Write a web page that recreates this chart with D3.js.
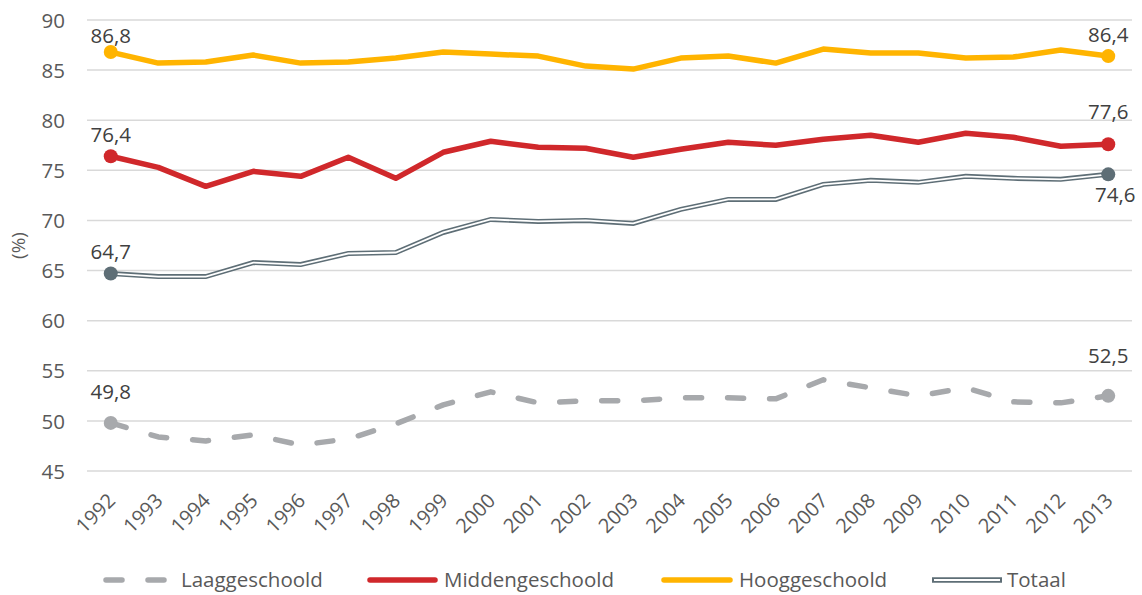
<!DOCTYPE html>
<html><head><meta charset="utf-8">
<script src="https://cdn.jsdelivr.net/npm/d3@7"></script>
<style>body{margin:0;background:#fff}svg{display:block;font-family:"Open Sans",sans-serif}</style>
</head><body><svg id="c" width="1142" height="595"></svg>
<script>
const years = [1992,1993,1994,1995,1996,1997,1998,1999,2000,2001,2002,2003,2004,2005,2006,2007,2008,2009,2010,2011,2012,2013];
const laag   = [49.8,48.4,48.0,48.6,47.6,48.2,49.7,51.6,52.9,51.8,52.0,52.0,52.3,52.3,52.2,54.1,53.3,52.5,53.3,51.9,51.8,52.5];
const midden = [76.4,75.3,73.4,74.9,74.4,76.3,74.2,76.8,77.9,77.3,77.2,76.3,77.1,77.8,77.5,78.1,78.5,77.8,78.7,78.3,77.4,77.6];
const hoog   = [86.8,85.7,85.8,86.5,85.7,85.8,86.2,86.8,86.6,86.4,85.4,85.1,86.2,86.4,85.7,87.1,86.7,86.7,86.2,86.3,87.0,86.4];
const totaal = [64.7,64.4,64.4,65.8,65.6,66.7,66.8,68.8,70.1,69.9,70.0,69.7,71.1,72.1,72.1,73.6,74.0,73.8,74.4,74.2,74.1,74.6];
const yTicks = [45,50,55,60,65,70,75,80,85,90];
const seriesNames = ["Laaggeschoold","Middengeschoold","Hooggeschoold","Totaal"];
const fmt = v => d3.format(".1f")(v).replace(".", ",");

const svg = d3.select("#c");
const L = 87, R = 1132, T = 20, B = 471;
const x = d3.scaleBand().domain(years).range([L, R]);
const y = d3.scaleLinear().domain([45, 90]).range([B, T]);
const cx = d => x(d) + x.bandwidth() / 2;

// gridlines
svg.append("g").selectAll("line").data(yTicks).join("line")
  .attr("x1", L).attr("x2", R).attr("y1", d => y(d)).attr("y2", d => y(d))
  .attr("stroke", "#D9D9D9").attr("stroke-width", 1.5);

// y axis labels
const yAxis = d3.axisLeft(y).tickValues(yTicks).tickSize(0).tickPadding(0);
const gy = svg.append("g").attr("transform", `translate(${L - 22},0)`).call(yAxis);
gy.select(".domain").remove();
gy.selectAll("text").attr("font-size", 20.5).attr("fill", "#595959").attr("font-family", "Open Sans").attr("dy", "0.35em");

// y title
svg.append("text").attr("transform", `translate(25,${y(67.5)}) rotate(-90)`)
  .attr("text-anchor", "middle").attr("font-size", 19).attr("fill", "#595959").text("(%)");

// x axis labels
const xAxis = d3.axisBottom(x).tickSize(0).tickPadding(0);
const gx = svg.append("g").attr("transform", "translate(0,0)").call(xAxis);
gx.select(".domain").remove();
gx.selectAll(".tick").attr("transform", null);
gx.selectAll(".tick text").attr("font-size", 20).attr("fill", "#595959").attr("font-family", "Open Sans")
  .attr("text-anchor", "end").attr("x", 0).attr("y", 0).attr("dy", "0.35em")
  .attr("transform", d => `translate(${cx(d) + 1},${B + 26}) rotate(-45)`);

const line = d3.line().x((d, i) => cx(years[i])).y(d => y(d));

const cLaag = "#A7A9AC", cMid = "#D0282B", cHoog = "#FFB400", cTot = "#5E6E76";

// Laag dashed
svg.append("path").attr("d", line(laag)).attr("fill", "none").attr("stroke", cLaag)
  .attr("stroke-width", 5.5).attr("stroke-dasharray", "16,26").attr("stroke-linecap", "round").attr("stroke-linejoin", "round");
// Midden
svg.append("path").attr("d", line(midden)).attr("fill", "none").attr("stroke", cMid).attr("stroke-width", 5.5).attr("stroke-linejoin", "round");
// Hoog
svg.append("path").attr("d", line(hoog)).attr("fill", "none").attr("stroke", cHoog).attr("stroke-width", 5.5).attr("stroke-linejoin", "round");
// Totaal double
svg.append("path").attr("d", line(totaal)).attr("fill", "none").attr("stroke", cTot).attr("stroke-width", 5);
svg.append("path").attr("d", line(totaal)).attr("fill", "none").attr("stroke", "#fff").attr("stroke-width", 1.8);

// end markers and labels
const ends = [
  {vals: laag, color: cLaag, dy0: -24, dy1: -33, dx1: 0},
  {vals: midden, color: cMid, dy0: -14, dy1: -25, dx1: 0},
  {vals: hoog, color: cHoog, dy0: -9, dy1: -14, dx1: 0},
  {vals: totaal, color: cTot, dy0: -15, dy1: 28, dx1: 7}
];
ends.forEach(s => {
  [0, years.length - 1].forEach((i, k) => {
    svg.append("circle").attr("cx", cx(years[i])).attr("cy", y(s.vals[i])).attr("r", 7).attr("fill", s.color);
    svg.append("text").attr("x", cx(years[i]) + (k ? s.dx1 : 0)).attr("y", y(s.vals[i]) + (k ? s.dy1 : s.dy0))
      .attr("text-anchor", "middle").attr("font-size", 20.5).attr("fill", "#404040").text(fmt(s.vals[i]));
  });
});

// legend
const lg = svg.append("g").attr("transform", "translate(0,580)");
const items = [
  {name: seriesNames[0], x0: 106, x1: 168, tx: 181, type: "dash", color: cLaag},
  {name: seriesNames[1], x0: 370, x1: 435, tx: 444, type: "solid", color: cMid},
  {name: seriesNames[2], x0: 664, x1: 730, tx: 739, type: "solid", color: cHoog},
  {name: seriesNames[3], x0: 932, x1: 1002, tx: 1007, type: "double", color: cTot}
];
items.forEach(it => {
  lg.append("line").attr("x1", it.x0).attr("x2", it.x1).attr("stroke", it.color)
    .attr("stroke-width", 5.5).attr("stroke-linecap", it.type === "double" ? "butt" : "round")
    .attr("stroke-dasharray", it.type === "dash" ? "16,26" : null);
  if (it.type === "double") lg.append("line").attr("x1", it.x0 + 2).attr("x2", it.x1 - 2).attr("stroke", "#fff").attr("stroke-width", 1.8);
  lg.append("text").attr("x", it.tx).attr("y", 0).attr("dy", "0.35em").attr("font-size", 20.5).attr("fill", "#595959").text(it.name);
});
</script></body></html>
